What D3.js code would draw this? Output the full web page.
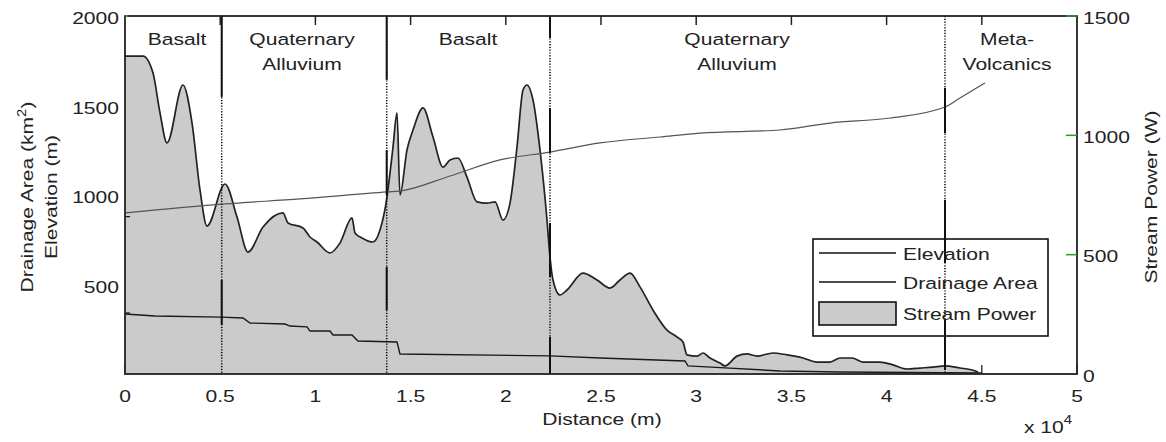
<!DOCTYPE html>
<html><head><meta charset="utf-8">
<script src="https://cdn.jsdelivr.net/npm/d3@7"></script>
<style>
html,body{margin:0;padding:0;background:#fff;}
text{font-family:"Liberation Sans",Arial,sans-serif;fill:#222;}
</style></head>
<body>
<svg id="chart" width="1166" height="442"></svg>
<script>
// ---------- data ----------
const spDist = [0,945,1471,1838,2206,3046,3519,3939,4307,5252,5882,6460,7248,8298,8561,9349,9716,10084,10767,11292,11922,12080,12447,13025,13393,13761,13918,14076,14286,14443,14811,15126,15651,16176,16702,17069,17489,17962,18487,19013,19433,19853,20221,20588,20903,21113,21429,21796,22164,22321,22479,22846,23214,24055,24790,25473,25998,26523,27048,27731,28466,28992,29307,29517,30042,30357,30725,31250,31513,32143,32668,33193,34034,34769,35609,36345,37027,37553,38183,38761,39653,40336,41071,41754,42437,43067,43855,44500,44800];
const spValue = [1332,1332,1261,1094,968,1211,1052,771,620,796,658,511,616,675,633,612,574,553,507,549,654,591,570,553,603,742,842,951,1094,750,939,1022,1115,993,867,897,905,825,721,716,721,645,716,951,1190,1211,1148,939,645,490,394,331,352,423,394,360,394,423,365,268,184,155,134,80,75,88,67,46,34,75,84,75,88,80,67,50,50,67,67,50,50,38,21,25,29,34,25,17,8];

const elevDist = [0,5252,9191,13761,14443,17069,19695,22321,24947,28099,30200,34401,37027,40179,43067,43855,45168];
const elevValue = [900,950,978,1017,1022,1106,1196,1240,1291,1324,1346,1363,1402,1430,1492,1542,1626];

const areaDist = [0,1576,5042,6197,6565,8403,8666,9559,9716,10767,10924,11922,12237,14286,14443,22321,24947,29412,29569,31513,34401,37553,45000];
const areaValue = [335,324,318,313,285,279,268,263,240,240,218,218,184,179,112,101,89,73,45,34,17,11,6];

const boundaries = [5079, 13745, 22321, 43067];
// solid parts of each boundary line, in elevation-axis units
const boundarySolid = [
  [[1548,2000],[274,525]],
  [[1643,2000],[1000,1251],[358,598]],
  [[1877,2000],[1235,1486],[542,844],[0,207]],
  [[1346,1598],[620,972],[22,302]]
];
const unitCenters = [2731, 9296, 18015, 32143, 46323];
const unitNames = [["Basalt"],["Quaternary","Alluvium"],["Basalt"],["Quaternary","Alluvium"],["Meta-","Volcanics"]];

const xTicks = [0,5000,10000,15000,20000,25000,30000,35000,40000,45000,50000];
const xTickLabels = ["0","0.5","1","1.5","2","2.5","3","3.5","4","4.5","5"];
const leftTicks = [500,1000,1500,2000];
const leftMinorTicks = [341,879];
const rightTicks = [0,500,1000,1500];
const legendLabels = ["Elevation","Drainage Area","Stream Power"];

// ---------- layout ----------
const L=125, R=1077, T=16, B=374;
const SX=1.24, FS=17;
const svg = d3.select("#chart");
const x = d3.scaleLinear().domain([0,50000]).range([L,R]);
const yL = d3.scaleLinear().domain([0,2000]).range([B,T]);
const yR = d3.scaleLinear().domain([0,1500]).range([B,T]);

function label(g, px, py, str, anchor, rot, size){
  const t = g.append("text")
    .attr("transform",`translate(${px},${py}) rotate(${rot||0}) scale(${SX},1)`)
    .attr("text-anchor",anchor||"middle")
    .attr("font-size",size||FS);
  if(str!==null) t.text(str);
  return t;
}

// bottom ticks (under the fill)
svg.append("g").selectAll("line").data(xTicks).join("line")
  .attr("x1",d=>x(d)).attr("x2",d=>x(d)).attr("y1",B).attr("y2",B-9)
  .attr("stroke","#222").attr("stroke-width",1.3);

// stream power area
const spData = spDist.map((d,i)=>({d,v:spValue[i]}));
svg.append("path").datum(spData)
  .attr("d", d3.area().x(p=>x(p.d)).y0(yR(0)).y1(p=>yR(p.v)).curve(d3.curveMonotoneX))
  .attr("fill","#cbcbcb").attr("stroke","none");
svg.append("path").datum(spData)
  .attr("d", d3.line().x(p=>x(p.d)).y(p=>yR(p.v)).curve(d3.curveMonotoneX))
  .attr("fill","none").attr("stroke","#222").attr("stroke-width",1.7);

// elevation
svg.append("path").datum(elevDist.map((d,i)=>({d,v:elevValue[i]})))
  .attr("d", d3.line().x(p=>x(p.d)).y(p=>yL(p.v)).curve(d3.curveMonotoneX))
  .attr("fill","none").attr("stroke","#555").attr("stroke-width",1.2);

// drainage area
svg.append("path").datum(areaDist.map((d,i)=>({d,v:areaValue[i]})))
  .attr("d", d3.line().x(p=>x(p.d)).y(p=>yL(p.v)))
  .attr("fill","none").attr("stroke","#1a1a1a").attr("stroke-width",1.4);

// legend
const lg = svg.append("g");
lg.append("rect").attr("x",813).attr("y",239).attr("width",235).attr("height",97)
  .attr("fill","#fff").attr("stroke","#111").attr("stroke-width",1.6);
[253,282].forEach((yy,i)=>{
  lg.append("line").attr("x1",819).attr("x2",896).attr("y1",yy).attr("y2",yy)
    .attr("stroke","#111").attr("stroke-width",1.5);
  label(lg,903,yy+7,legendLabels[i],"start");
});
lg.append("rect").attr("x",819).attr("y",302).attr("width",77).attr("height",23)
  .attr("fill","#cbcbcb").attr("stroke","#111").attr("stroke-width",1.6);
label(lg,903,320,legendLabels[2],"start");

// boundary lines
const bg = svg.append("g");
boundaries.forEach((b,i)=>{
  bg.append("line").attr("x1",x(b)).attr("x2",x(b)).attr("y1",T).attr("y2",B)
    .attr("stroke","#000").attr("stroke-width",1.5).attr("stroke-dasharray","1.2,1.6");
  boundarySolid[i].forEach(s=>{
    bg.append("line").attr("x1",x(b)).attr("x2",x(b)).attr("y1",yL(s[1])).attr("y2",yL(s[0]))
      .attr("stroke","#111").attr("stroke-width",2);
  });
});

// unit labels
unitCenters.forEach((c,i)=>{
  unitNames[i].forEach((n,j)=>label(svg,x(c),45+j*25,n,"middle"));
});

// frame
svg.append("rect").attr("x",L).attr("y",T).attr("width",R-L).attr("height",B-T)
  .attr("fill","none").attr("stroke","#222").attr("stroke-width",1.8);

// top ticks
svg.append("g").selectAll("line").data(xTicks.slice(1,-1)).join("line")
  .attr("x1",d=>x(d)).attr("x2",d=>x(d)).attr("y1",T).attr("y2",T+9)
  .attr("stroke","#222").attr("stroke-width",1.5);

// left minor ticks
svg.append("g").selectAll("line").data(leftMinorTicks).join("line")
  .attr("x1",L).attr("x2",L+5).attr("y1",d=>yL(d)).attr("y2",d=>yL(d))
  .attr("stroke","#222").attr("stroke-width",1.3);
// green ticks
svg.append("line").attr("x1",L).attr("x2",L+3).attr("y1",T).attr("y2",T).attr("stroke","#2e9a2e").attr("stroke-width",1.5);
svg.append("g").selectAll("line").data(rightTicks.slice(1)).join("line")
  .attr("x1",R-11).attr("x2",R).attr("y1",d=>yR(d)).attr("y2",d=>yR(d))
  .attr("stroke","#2e9a2e").attr("stroke-width",1.5);

// tick labels
xTicks.forEach((t,i)=>label(svg,x(t),402,xTickLabels[i],"middle"));
leftTicks.forEach(t=>label(svg,119,yL(t)+8,String(t),"end"));
rightTicks.forEach(t=>label(svg,1083,yR(t)+7.5,String(t),"start"));

// axis titles
label(svg,602,425,"Distance (m)","middle");
const xe = label(svg,1072,433,null,"end");
xe.append("tspan").text("x 10");
xe.append("tspan").attr("dy",-9).attr("font-size",12).text("4");

const yt1 = label(svg,33,197,null,"middle",-90);
yt1.append("tspan").text("Drainage Area (km");
yt1.append("tspan").attr("dy",-7).attr("font-size",12).text("2");
yt1.append("tspan").attr("dy",7).text(")");
label(svg,57,197,"Elevation (m)","middle",-90);
label(svg,1157,197,"Stream Power (W)","middle",-90);
</script>
</body></html>
